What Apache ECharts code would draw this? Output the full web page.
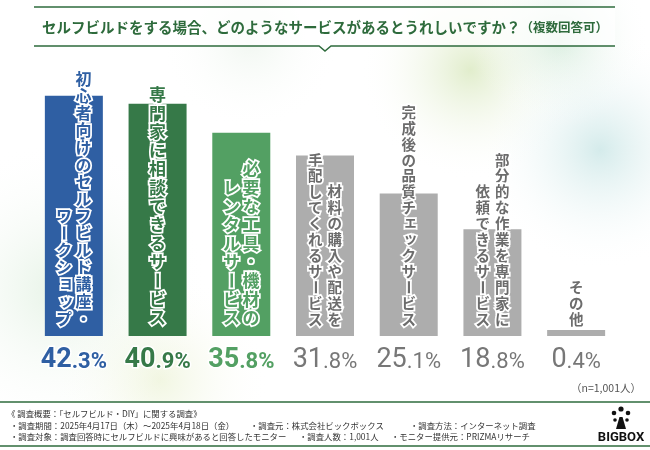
<!DOCTYPE html>
<html><head><meta charset="utf-8">
<script src="https://cdn.jsdelivr.net/npm/echarts@6/dist/echarts.min.js"></script>
<style>html,body{margin:0;padding:0;background:#fff}#c{width:650px;height:450px}</style>
</head><body><div id="c"></div>
<script>
// ---- data ----
const categories = [
  '初心者向けのセルフビルド講座・ワークショップ',
  '専門家に相談できるサービス',
  '必要な工具・機材のレンタルサービス',
  '材料の購入や配送を手配してくれるサービス',
  '完成後の品質チェックサービス',
  '部分的な作業を専門家に依頼できるサービス',
  'その他'
];
const values = [42.3, 40.9, 35.8, 31.8, 25.1, 18.8, 0.4];
const labelColumns = [
  ['初心者向けのセルフビルド講座・', 'ワークショップ'],
  ['専門家に相談できるサービス'],
  ['必要な工具・機材の', 'レンタルサービス'],
  ['材料の購入や配送を', '手配してくれるサービス'],
  ['完成後の品質チェックサービス'],
  ['部分的な作業を専門家に', '依頼できるサービス'],
  ['その他']
];
const titleMain = 'セルフビルドをする場合、どのようなサービスがあるとうれしいですか？';
const titleSub = '（複数回答可）';
const sampleNote = '（n=1,001人）';
const footerLines = [
  [['《 調査概要：「セルフビルド・DIY」に関する調査》', 7]],
  [['・調査期間：2025年4月17日（木）～2025年4月18日（金）', 10], ['・調査元：株式会社ビックボックス', 250], ['・調査方法：インターネット調査', 410]],
  [['・調査対象：調査回答時にセルフビルドに興味があると回答したモニター', 10], ['・調査人数：1,001人', 299], ['・モニター提供元：PRIZMAリサーチ', 391]]
];
const logoText = 'BIGBOX';

// ---- styles ----
const FONT = '"Noto Sans CJK JP", "Noto Sans", sans-serif';
const barColors = ['#2f5fa3', '#367948', '#53a063', '#adadad', '#adadad', '#adadad', '#adadad'];
const labelFill = ['#2f5fa3', '#367948', '#53a063', '#6c6c6c', '#6c6c6c', '#6c6c6c', '#6c6c6c'];
const pctColors = ['#2f5fa3', '#367948', '#53a063', '#777777', '#777777', '#777777', '#777777'];
const labelSize = [16, 17, 17, 14.5, 14.5, 14.5, 14.5];
const labelPitch = [17.1, 18.6, 18.6, 15.9, 15.9, 15.9, 15.9];
const colStep = 19.5;
const smallKana = 'ぁぃぅぇぉっゃゅょァィゥェォッャュョ';
const rotChars = 'ー～（）';

const rich = {};
pctColors.forEach((c, i) => {
  const bold = i < 3;
  rich['b' + i] = { fontSize: 27, fontWeight: bold ? 'bold' : 'normal', color: c, fontFamily: 'Roboto, sans-serif',
    textBorderColor: bold ? '#fff' : 'transparent', textBorderWidth: bold ? 3 : 0, verticalAlign: 'bottom', lineHeight: 30 };
  rich['s' + i] = { fontSize: 22, fontWeight: bold ? 'bold' : 'normal', color: c, fontFamily: 'Roboto, sans-serif',
    textBorderColor: bold ? '#fff' : 'transparent', textBorderWidth: bold ? 3 : 0, verticalAlign: 'bottom', lineHeight: 30, padding: [0, 0, 1, 0] };
});

function renderLabel(params, api) {
  const i = api.value(0);
  const base = api.coord([i, 0]);
  const cols = labelColumns[i];
  const fs = labelSize[i], pitch = labelPitch[i];
  const n = cols.length;
  const children = [];
  const bottomCenter = base[1] - 9 - pitch / 2;
  cols.forEach((col, ci) => {
    const chars = Array.from(col);
    const x = base[0] + ((n - 1) / 2 - ci) * colStep;
    chars.forEach((ch, k) => {
      let y = bottomCenter - (chars.length - 1 - k) * pitch;
      let dx = 0, dy = 0, rot = 0;
      if (smallKana.indexOf(ch) >= 0) { dx = fs * 0.12; dy = -fs * 0.12; }
      if (rotChars.indexOf(ch) >= 0) { rot = -Math.PI / 2; }
      children.push({
        type: 'text', x: x + dx, y: y + dy, rotation: rot,
        style: { text: ch, fill: labelFill[i], stroke: '#ffffff', lineWidth: 3.5, strokeFirst: true,
          fontSize: fs, fontWeight: 'bold', fontFamily: FONT, align: 'center', verticalAlign: 'middle' }
      });
    });
  });
  return { type: 'group', children: children };
}

function blob(cx, cy, r, color) {
  return { type: 'circle', shape: { cx: cx, cy: cy, r: r }, z: -20, silent: true,
    style: { fill: { type: 'radial', x: 0.5, y: 0.5, r: 0.5,
      colorStops: [{ offset: 0, color: color }, { offset: 1, color: 'rgba(255,255,255,0)' }] } } };
}

const graphics = [
  blob(470, 70, 110, 'rgba(205,225,170,0.6)'),
  blob(600, 150, 120, 'rgba(170,215,215,0.5)'),
  blob(560, 40, 90, 'rgba(190,225,200,0.55)'),
  blob(60, 290, 150, 'rgba(200,228,200,0.45)'),
  blob(160, 380, 110, 'rgba(225,235,190,0.45)'),
  blob(250, 40, 90, 'rgba(215,232,215,0.35)'),
  { type: 'rect', shape: { x: 0, y: 401, width: 650, height: 49 }, style: { fill: '#ffffff' }, z: -10, silent: true },
  { type: 'rect', shape: { x: 34, y: 7, width: 581, height: 39 }, style: { fill: 'rgba(255,255,255,0.7)' }, z: -5, silent: true },
  { type: 'line', shape: { x1: 34, y1: 7, x2: 615, y2: 7 }, style: { stroke: '#2e6b3c', lineWidth: 1.5 }, z: 10 },
  { type: 'polyline', shape: { points: [[34, 46], [319, 46], [325, 51], [331, 46], [615, 46]] }, style: { stroke: '#2e6b3c', lineWidth: 1.5, fill: null }, z: 10 },
  { type: 'text', x: 325, y: 27, z: 10, style: { text: '{m|' + titleMain + '}{p|' + titleSub + '}', align: 'center', verticalAlign: 'middle',
      rich: { m: { fontSize: 14.5, fontWeight: 'bold', fill: '#2e6b3c', fontFamily: FONT },
              p: { fontSize: 12.5, fontWeight: 'bold', fill: '#2e6b3c', fontFamily: FONT } } } },
  { type: 'text', x: 641, y: 388, z: 10, style: { text: sampleNote, align: 'right', verticalAlign: 'middle', fontSize: 10.5, fill: '#555', fontFamily: FONT } },
  { type: 'line', shape: { x1: 0, y1: 402, x2: 650, y2: 402 }, style: { stroke: '#2e6b3c', lineWidth: 1.5 }, z: 10 },
  { type: 'line', shape: { x1: 0, y1: 446, x2: 650, y2: 446 }, style: { stroke: '#2e6b3c', lineWidth: 1.5 }, z: 10 },
  { type: 'text', x: 621, y: 438, z: 10, style: { text: logoText, align: 'center', verticalAlign: 'middle', fontSize: 13, fontWeight: 'bold', fill: '#111', fontFamily: 'Roboto, sans-serif' } },
  { type: 'polygon', z: 10, shape: { points: [[616, 429], [619.5, 417], [622.5, 417], [626, 429]] }, style: { fill: '#111' } },
  { type: 'circle', z: 10, shape: { cx: 621, cy: 409, r: 2.6 }, style: { fill: '#111' } },
  { type: 'circle', z: 10, shape: { cx: 614, cy: 413, r: 2.3 }, style: { fill: '#111' } },
  { type: 'circle', z: 10, shape: { cx: 628, cy: 413, r: 2.3 }, style: { fill: '#111' } },
  { type: 'circle', z: 10, shape: { cx: 615, cy: 420, r: 1.8 }, style: { fill: '#111' } },
  { type: 'circle', z: 10, shape: { cx: 627, cy: 420, r: 1.8 }, style: { fill: '#111' } }
];
const footerY = [414, 425.5, 437];
footerLines.forEach((line, li) => {
  line.forEach(item => {
    graphics.push({ type: 'text', x: item[1], y: footerY[li], z: 10,
      style: { text: item[0], align: 'left', verticalAlign: 'middle', fontSize: 8.4, fill: '#333', fontFamily: FONT } });
  });
});

const chart = echarts.init(document.getElementById('c'), null, { renderer: 'canvas' });
chart.setOption({
  backgroundColor: '#ffffff',
  animation: false,
  grid: { left: 32, right: 32, top: 52, bottom: 114, containLabel: false },
  xAxis: {
    type: 'category', data: categories,
    axisLine: { show: false }, axisTick: { show: false },
    axisLabel: {
      interval: 0, margin: 8,
      formatter: function (v, idx) {
        const s = values[idx].toFixed(1);
        const p = s.split('.');
        return '{b' + idx + '|' + p[0] + '}{s' + idx + '|.' + p[1] + '%}';
      },
      rich: rich
    }
  },
  yAxis: { type: 'value', min: 0, max: 50, show: false, splitLine: { show: false } },
  series: [
    { type: 'bar', data: values.map((v, i) => ({ value: v, itemStyle: { color: barColors[i] } })),
      barWidth: 58, barMinHeight: 6, z: 2 },
    { type: 'custom', data: values.map((v, i) => [i, v]), encode: { x: 0, y: 1 },
      renderItem: renderLabel, z: 5, silent: true }
  ],
  graphic: graphics
});
</script></body></html>
